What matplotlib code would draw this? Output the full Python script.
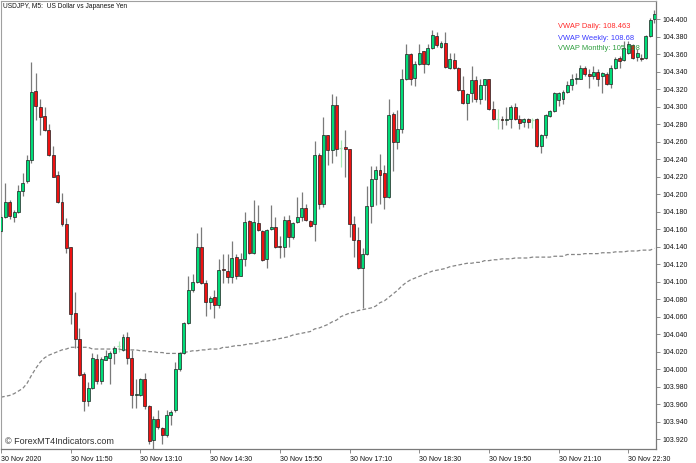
import matplotlib
matplotlib.use("Agg")
import matplotlib.pyplot as plt
from matplotlib.patches import Rectangle
import numpy as np

plt.rcParams['font.family'] = ['Liberation Sans', 'DejaVu Sans']

opens = [104.158, 104.174, 104.191, 104.174, 104.180, 104.204, 104.215, 104.239, 104.318, 104.300,
         104.289, 104.273, 104.245, 104.222, 104.191, 104.166, 104.139, 104.064, 104.034, 103.994,
         103.964, 103.979, 104.012, 103.987, 104.011, 104.013, 104.019, 104.026, 104.022, 104.037,
         104.013, 103.970, 103.970, 103.989, 103.958, 103.919, 103.943, 103.933, 103.925, 103.948,
         103.953, 104.000, 104.018, 104.053, 104.090, 104.100, 104.140, 104.099, 104.077, 104.082,
         104.073, 104.114, 104.112, 104.105, 104.128, 104.107, 104.126, 104.169, 104.133, 104.167,
         104.158, 104.126, 104.160, 104.162, 104.141, 104.140, 104.170, 104.151, 104.168, 104.174,
         104.184, 104.169, 104.166, 104.245, 104.189, 104.267, 104.250, 104.302, 104.253, 104.254,
         104.251, 104.166, 104.147, 104.116, 104.131, 104.186, 104.217, 104.227, 104.224, 104.197,
         104.292, 104.259, 104.274, 104.331, 104.360, 104.333, 104.349, 104.363, 104.349, 104.367,
         104.381, 104.368, 104.373, 104.344, 104.353, 104.344, 104.319, 104.304, 104.315, 104.330,
         104.309, 104.325, 104.331, 104.297, 104.286, 104.286, 104.285, 104.286, 104.299, 104.286,
         104.282, 104.286, 104.285, 104.286, 104.255, 104.268, 104.289, 104.295, 104.307, 104.309,
         104.317, 104.325, 104.331, 104.332, 104.344, 104.337, 104.335, 104.339, 104.335, 104.337,
         104.326, 104.344, 104.356, 104.353, 104.361, 104.370, 104.357, 104.356, 104.356, 104.381,
         104.400]

highs = [104.177, 104.213, 104.193, 104.182, 104.210, 104.224, 104.245, 104.351, 104.338, 104.309,
         104.300, 104.280, 104.255, 104.226, 104.201, 104.173, 104.139, 104.088, 104.047, 103.997,
         103.985, 104.018, 104.017, 104.014, 104.022, 104.021, 104.026, 104.032, 104.040, 104.043,
         104.022, 103.989, 103.990, 103.996, 103.959, 103.947, 103.953, 103.934, 103.953, 103.953,
         104.008, 104.020, 104.054, 104.107, 104.109, 104.155, 104.162, 104.102, 104.084, 104.090,
         104.126, 104.131, 104.131, 104.146, 104.131, 104.133, 104.179, 104.170, 104.193, 104.187,
         104.159, 104.160, 104.187, 104.174, 104.152, 104.175, 104.176, 104.168, 104.197, 104.202,
         104.189, 104.170, 104.261, 104.247, 104.288, 104.268, 104.314, 104.312, 104.262, 104.273,
         104.252, 104.175, 104.162, 104.138, 104.209, 104.232, 104.232, 104.246, 104.233, 104.309,
         104.294, 104.296, 104.343, 104.372, 104.361, 104.352, 104.372, 104.364, 104.372, 104.388,
         104.385, 104.375, 104.385, 104.361, 104.361, 104.345, 104.335, 104.315, 104.346, 104.335,
         104.332, 104.332, 104.332, 104.306, 104.297, 104.289, 104.299, 104.302, 104.304, 104.290,
         104.287, 104.287, 104.287, 104.287, 104.269, 104.291, 104.296, 104.317, 104.317, 104.319,
         104.329, 104.337, 104.338, 104.347, 104.346, 104.343, 104.346, 104.343, 104.340, 104.339,
         104.347, 104.357, 104.358, 104.375, 104.375, 104.372, 104.366, 104.360, 104.382, 104.401,
         104.410]

lows = [104.155, 104.173, 104.172, 104.168, 104.178, 104.198, 104.213, 104.236, 104.285, 104.267,
        104.272, 104.243, 104.219, 104.190, 104.163, 104.133, 104.052, 104.024, 103.992, 103.952,
        103.958, 103.977, 103.983, 103.983, 104.010, 103.983, 104.006, 104.020, 104.021, 104.006,
        103.956, 103.956, 103.969, 103.954, 103.915, 103.909, 103.932, 103.915, 103.923, 103.936,
        103.951, 103.998, 104.017, 104.052, 104.088, 104.098, 104.097, 104.061, 104.069, 104.059,
        104.070, 104.099, 104.098, 104.099, 104.103, 104.106, 104.118, 104.132, 104.132, 104.158,
        104.124, 104.116, 104.159, 104.138, 104.127, 104.128, 104.140, 104.149, 104.167, 104.169,
        104.169, 104.162, 104.146, 104.183, 104.185, 104.233, 104.236, 104.244, 104.231, 104.220,
        104.151, 104.128, 104.114, 104.070, 104.130, 104.167, 104.187, 104.189, 104.183, 104.196,
        104.226, 104.251, 104.270, 104.330, 104.325, 104.323, 104.347, 104.338, 104.347, 104.366,
        104.368, 104.367, 104.344, 104.343, 104.343, 104.318, 104.303, 104.285, 104.305, 104.305,
        104.303, 104.308, 104.296, 104.285, 104.274, 104.274, 104.279, 104.275, 104.285, 104.274,
        104.277, 104.275, 104.275, 104.254, 104.247, 104.264, 104.288, 104.294, 104.301, 104.303,
        104.316, 104.319, 104.326, 104.331, 104.335, 104.321, 104.331, 104.323, 104.315, 104.325,
        104.321, 104.343, 104.344, 104.352, 104.360, 104.354, 104.352, 104.352, 104.354, 104.380,
        104.396]

closes = [104.174, 104.191, 104.175, 104.180, 104.204, 104.213, 104.239, 104.317, 104.301, 104.288,
          104.273, 104.245, 104.220, 104.191, 104.166, 104.138, 104.063, 104.034, 103.993, 103.964,
          103.979, 104.013, 103.987, 104.012, 104.015, 104.019, 104.024, 104.026, 104.037, 104.013,
          103.970, 103.971, 103.989, 103.958, 103.918, 103.943, 103.934, 103.925, 103.948, 103.951,
          104.000, 104.018, 104.053, 104.090, 104.100, 104.140, 104.098, 104.077, 104.081, 104.073,
          104.113, 104.113, 104.105, 104.127, 104.106, 104.126, 104.168, 104.133, 104.168, 104.159,
          104.125, 104.159, 104.162, 104.139, 104.140, 104.170, 104.151, 104.167, 104.174, 104.184,
          104.170, 104.163, 104.245, 104.189, 104.268, 104.250, 104.302, 104.251, 104.253, 104.251,
          104.166, 104.147, 104.116, 104.131, 104.186, 104.217, 104.227, 104.222, 104.197, 104.290,
          104.259, 104.274, 104.331, 104.360, 104.332, 104.349, 104.361, 104.349, 104.367, 104.382,
          104.370, 104.373, 104.345, 104.354, 104.344, 104.319, 104.304, 104.314, 104.330, 104.309,
          104.325, 104.331, 104.297, 104.286, 104.286, 104.285, 104.286, 104.299, 104.286, 104.281,
          104.286, 104.282, 104.285, 104.255, 104.268, 104.290, 104.295, 104.316, 104.315, 104.317,
          104.325, 104.331, 104.333, 104.344, 104.337, 104.335, 104.339, 104.332, 104.338, 104.326,
          104.344, 104.354, 104.352, 104.367, 104.371, 104.356, 104.361, 104.354, 104.381, 104.399,
          104.406]

vwap = [103.968, 103.969, 103.970, 103.972, 103.975, 103.978, 103.984, 103.993, 104.001, 104.008,
        104.013, 104.016, 104.018, 104.020, 104.022, 104.023, 104.025, 104.025, 104.025, 104.025,
        104.025, 104.023, 104.023, 104.023, 104.023, 104.023, 104.023, 104.023, 104.022, 104.022,
        104.022, 104.022, 104.021, 104.021, 104.020, 104.020, 104.019, 104.019, 104.018, 104.018,
        104.018, 104.018, 104.019, 104.020, 104.021, 104.021, 104.022, 104.022, 104.023, 104.023,
        104.023, 104.025, 104.025, 104.026, 104.027, 104.027, 104.028, 104.029, 104.029, 104.030,
        104.032, 104.032, 104.033, 104.034, 104.035, 104.036, 104.037, 104.039, 104.040, 104.041,
        104.042, 104.043, 104.046, 104.047, 104.049, 104.051, 104.054, 104.056, 104.060, 104.062,
        104.064, 104.065, 104.067, 104.068, 104.069, 104.070, 104.072, 104.076, 104.078, 104.082,
        104.086, 104.090, 104.095, 104.099, 104.102, 104.104, 104.106, 104.108, 104.110, 104.112,
        104.113, 104.114, 104.115, 104.117, 104.118, 104.119, 104.120, 104.121, 104.121, 104.122,
        104.122, 104.124, 104.124, 104.125, 104.125, 104.126, 104.126, 104.126, 104.127, 104.127,
        104.127, 104.127, 104.128, 104.128, 104.128, 104.128, 104.128, 104.129, 104.129, 104.129,
        104.131, 104.131, 104.131, 104.131, 104.132, 104.132, 104.132, 104.132, 104.133, 104.133,
        104.133, 104.134, 104.134, 104.134, 104.135, 104.135, 104.135, 104.136, 104.136, 104.136,
        104.138]

time_labels = ["30 Nov 2020", "30 Nov 11:50", "30 Nov 13:10", "30 Nov 14:30", "30 Nov 15:50",
               "30 Nov 17:10", "30 Nov 18:30", "30 Nov 19:50", "30 Nov 21:10", "30 Nov 22:30"]
time_label_idx = [0, 16, 32, 48, 64, 80, 96, 112, 128, 144]
price_ticks = [round(103.92 + 0.02 * k, 3) for k in range(25)]

vwap_texts = ["VWAP Daily: 108.463", "VWAP Weekly: 108.68", "VWAP Monthly: 105.698"]
vwap_colors = ["#ff2a2a", "#3a3aff", "#2e9e3e"]

W, H = 696, 463
fig = plt.figure(figsize=(W / 100, H / 100), dpi=100)
ax = fig.add_axes([1 / W, 14 / H, 655 / W, 448 / H])
ax.set_xlim(0.0, 150.35)
ax.set_ylim(103.9088, 104.4206)

up_col = "#00dc78"
dn_col = "#ee1111"
wick_col = "#7a7a7a"
doji_col = "#a6e8b4"
bw = 0.68

x = np.arange(len(opens))
for i in x:
    o, h, l, c = opens[i], highs[i], lows[i], closes[i]
    if o == c:
        ax.vlines(i, l, h, color=doji_col, lw=0.9, zorder=2)
        ax.hlines(o, i - bw / 2, i + bw / 2, color=doji_col, lw=0.9, zorder=3)
        continue
    ax.vlines(i, l, h, color=wick_col, lw=0.9, zorder=2)
    col = up_col if c > o else dn_col
    bot = min(o, c)
    ht = max(abs(c - o), 0.0012)
    ax.add_patch(Rectangle((i - bw / 2, bot), bw, ht, facecolor=col,
                           edgecolor="#202020", lw=0.5, zorder=3))

ax.plot(x, vwap, color="#858585", lw=0.9, dashes=(3, 1.8), zorder=2.5)

for k, (t, cc) in enumerate(zip(vwap_texts, vwap_colors)):
    fig.text(558 / W, 1 - (27 + 11 * k) / H, t, color=cc, fontsize=5.4,
             ha="left", va="center", zorder=1)

fig.text(3 / W, 1 - 7 / H, "USDJPY, M5:  US Dollar vs Japanese Yen", fontsize=4.8,
         color="#111111", ha="left", va="center")
fig.text(5 / W, 1 - 441 / H, "\u00a9 ForexMT4Indicators.com", fontsize=6.5,
         color="#303030", ha="left", va="center")

for s in ["left", "top"]:
    ax.spines[s].set_color("#a0a0a0")
    ax.spines[s].set_linewidth(0.8)
for s in ["right", "bottom"]:
    ax.spines[s].set_color("#7a7a7a")
    ax.spines[s].set_linewidth(0.9)

ax.yaxis.tick_right()
ax.set_yticks(price_ticks)
ax.set_yticklabels([f"{v:.3f}" for v in price_ticks])
ax.set_xticks(time_label_idx)
ax.set_xticklabels(time_labels, ha="left")
ax.tick_params(axis="both", length=3, width=0.6, color="#7a7a7a",
               labelsize=5.0, labelcolor="#111111", pad=1.5)
ax.tick_params(axis="x", pad=2)

fig.savefig("out.png", dpi=100, facecolor="white")
